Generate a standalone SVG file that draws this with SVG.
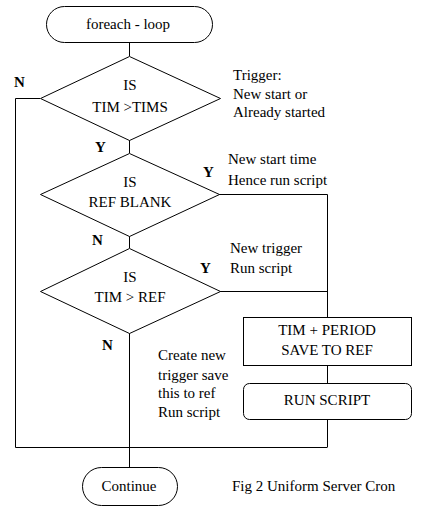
<svg xmlns="http://www.w3.org/2000/svg" width="422" height="513" viewBox="0 0 422 513">
<style>
.s{fill:#fff;stroke:#000;stroke-width:1}
.l{fill:none;stroke:#000;stroke-width:1}
.t{font-family:'Liberation Serif',serif;font-size:15px;fill:#000}
.c{text-anchor:middle}
.b{font-weight:bold}
</style>
<rect width="422" height="513" fill="#fff"/>
<g id="connectors">
<path class="l" d="M129.5,42 V56"/>
<path class="l" d="M40,98.5 H15.5 V447.5 H327.5"/>
<path class="l" d="M129.5,140 V153"/>
<path class="l" d="M219,194.5 H327.5 V317"/>
<path class="l" d="M129.5,236 V248"/>
<path class="l" d="M220,291.5 H327.5"/>
<path class="l" d="M327.5,365 V383"/>
<path class="l" d="M327.5,419 V447"/>
<path class="l" d="M129.5,333 V467"/>
</g>
<g id="start">
<rect class="s" x="46.5" y="6.5" width="166" height="36" rx="18" ry="18"/>
<text class="t c" x="128" y="29">foreach - loop</text>
</g>
<g id="d1">
<polygon class="s" points="129.5,56.5 220.5,98.5 129.5,140.5 40.5,98.5"/>
<text class="t c" x="130" y="90">IS</text>
<text class="t c" x="130" y="112">TIM &gt;TIMS</text>
</g>
<g id="d2">
<polygon class="s" points="129.5,153.5 219.5,194.5 129.5,236.5 40.5,194.5"/>
<text class="t c" x="130" y="187">IS</text>
<text class="t c" x="130" y="207">REF BLANK</text>
</g>
<g id="d3">
<polygon class="s" points="129.5,248.5 220.5,291.5 129.5,333.5 40.5,291.5"/>
<text class="t c" x="130" y="282">IS</text>
<text class="t c" x="130" y="302">TIM &gt; REF</text>
</g>
<g id="box1">
<rect class="s" x="243.5" y="317.5" width="168" height="48"/>
<text class="t c" x="327" y="335">TIM + PERIOD</text>
<text class="t c" x="327" y="355">SAVE TO REF</text>
</g>
<g id="box2">
<rect class="s" x="243.5" y="383.5" width="168" height="36" rx="6" ry="6"/>
<text class="t c" x="327" y="405">RUN SCRIPT</text>
</g>
<g id="end">
<rect class="s" x="82.5" y="467.5" width="95" height="38" rx="19" ry="19"/>
<text class="t c" x="129" y="491">Continue</text>
</g>
<g id="labels">
<text class="t b" x="14" y="87">N</text>
<text class="t b" x="95" y="152">Y</text>
<text class="t b" x="203" y="177">Y</text>
<text class="t b" x="92" y="245">N</text>
<text class="t b" x="200" y="273">Y</text>
<text class="t b" x="102" y="350">N</text>
<text class="t" x="233" y="80">Trigger:</text>
<text class="t" x="233" y="99">New start or</text>
<text class="t" x="233" y="117">Already started</text>
<text class="t" x="228" y="164">New start time</text>
<text class="t" x="228" y="185">Hence run script</text>
<text class="t" x="230" y="253">New trigger</text>
<text class="t" x="230" y="273">Run script</text>
<text class="t" x="158" y="360">Create new</text>
<text class="t" x="158" y="380">trigger save</text>
<text class="t" x="158" y="398">this to ref</text>
<text class="t" x="158" y="417">Run script</text>
<text class="t" x="232" y="491">Fig 2 Uniform Server Cron</text>
</g>
</svg>
